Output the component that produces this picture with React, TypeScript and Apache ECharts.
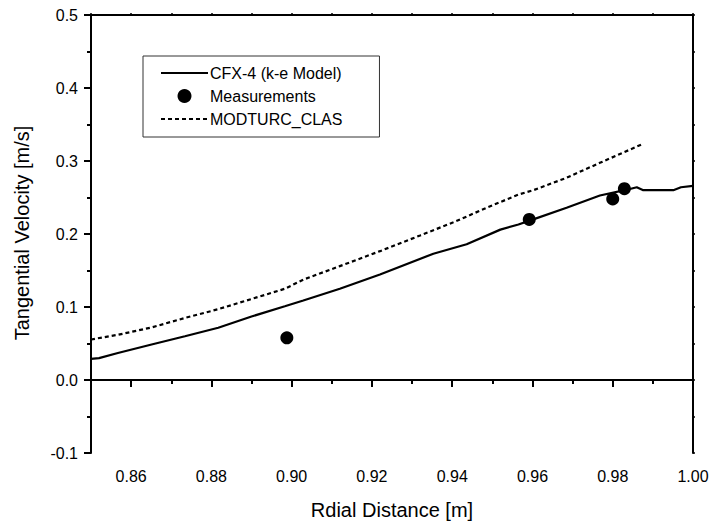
import React, { useEffect, useRef } from "react";
import * as echarts from "echarts";

const cfxX = [0.85, 0.852, 0.8567, 0.8651, 0.8734, 0.8817, 0.89, 0.8983, 0.9029, 0.912, 0.922, 0.9353, 0.9436, 0.952, 0.9565, 0.9602, 0.9685, 0.9768, 0.983, 0.986, 0.9876, 0.9951, 0.997, 1.0];
const cfxY = [0.029, 0.03, 0.037, 0.0486, 0.06, 0.0715, 0.087, 0.101, 0.109, 0.125, 0.1445, 0.173, 0.186, 0.206, 0.213, 0.22, 0.236, 0.2527, 0.26, 0.264, 0.26, 0.26, 0.264, 0.266];

const measX = [0.8988, 0.9592, 0.98, 0.9829];
const measY = [0.0578, 0.2199, 0.248, 0.262];

const modX = [0.85, 0.8568, 0.8651, 0.8734, 0.8817, 0.89, 0.8983, 0.9029, 0.912, 0.922, 0.932, 0.9403, 0.9486, 0.9565, 0.9602, 0.9685, 0.9768, 0.9876];
const modY = [0.0555, 0.062, 0.072, 0.085, 0.097, 0.111, 0.125, 0.1375, 0.156, 0.1765, 0.198, 0.216, 0.236, 0.254, 0.26, 0.277, 0.2975, 0.3236];

const xMajorTicks = [0.86, 0.88, 0.9, 0.92, 0.94, 0.96, 0.98, 1.0];
const xMinorTicks = [0.85, 0.87, 0.89, 0.91, 0.93, 0.95, 0.97, 0.99];

const seriesNames = ["CFX-4 (k-e Model)", "Measurements", "MODTURC_CLAS"];
const xTitle = "Rdial Distance [m]";
const yTitle = "Tangential Velocity [m/s]";

const FONT = "Liberation Sans, Arial, sans-serif";

export default function App() {
  const ref = useRef<HTMLDivElement>(null);
  useEffect(() => {
    if (!ref.current) return;
    const chart = echarts.init(ref.current, null, { renderer: "svg" });
    const zip = (xs: number[], ys: number[]) => xs.map((x, i) => [x, ys[i]]);
    const axisLine = { show: true, lineStyle: { color: "#000", width: 2 } };
    chart.setOption({
      animation: false,
      backgroundColor: "#fff",
      textStyle: { fontFamily: FONT },
      grid: { left: 91, right: 19, top: 15, bottom: 75 },
      xAxis: [
        {
          type: "value",
          min: 0.85,
          max: 1.0,
          position: "bottom",
          axisLine,
          splitLine: { show: false },
          axisTick: { show: true, length: 7, customValues: xMajorTicks, lineStyle: { color: "#000", width: 2 } },
          axisLabel: {
            customValues: xMajorTicks,
            margin: 15,
            fontSize: 16,
            color: "#000",
            fontFamily: FONT,
            formatter: (v: number) => v.toFixed(2),
          },
        },
        {
          type: "value",
          min: 0.85,
          max: 1.0,
          position: "bottom",
          axisLine: { show: false },
          splitLine: { show: false },
          axisTick: { show: true, length: 4, customValues: xMinorTicks, lineStyle: { color: "#000", width: 2 } },
          axisLabel: { show: false },
        },
        {
          type: "value",
          min: 0.85,
          max: 1.0,
          interval: 0.01,
          position: "top",
          axisLine,
          splitLine: { show: false },
          axisTick: { show: true, length: 2, lineStyle: { color: "#000", width: 1.5 } },
          axisLabel: { show: false },
        },
      ],
      yAxis: [
        {
          type: "value",
          min: -0.1,
          max: 0.5,
          interval: 0.1,
          position: "left",
          axisLine,
          splitLine: { show: false },
          axisTick: { show: true, length: 7, lineStyle: { color: "#000", width: 2 } },
          minorTick: { show: true, splitNumber: 2, length: 4, lineStyle: { color: "#000", width: 2 } },
          axisLabel: {
            margin: 13,
            fontSize: 16,
            color: "#000",
            fontFamily: FONT,
            formatter: (v: number) => v.toFixed(1),
          },
        },
        {
          type: "value",
          min: -0.1,
          max: 0.5,
          interval: 0.05,
          position: "right",
          axisLine,
          splitLine: { show: false },
          axisTick: { show: true, length: 2, lineStyle: { color: "#000", width: 1.5 } },
          axisLabel: { show: false },
        },
      ],
      legend: {
        show: true,
        orient: "vertical",
        left: 143,
        top: 56,
        padding: [9, 37, 10, 17],
        itemGap: 7,
        itemWidth: 47,
        itemHeight: 14,
        borderColor: "#333",
        borderWidth: 1,
        borderRadius: 0,
        data: [
          { name: seriesNames[0], itemStyle: { opacity: 0 } },
          { name: seriesNames[1] },
          { name: seriesNames[2], itemStyle: { opacity: 0 } },
        ],
        textStyle: { fontSize: 16, color: "#000", fontFamily: FONT, padding: [0, 0, 0, -3] },
      },
      graphic: [
        {
          type: "text",
          x: 392,
          y: 510,
          style: { text: xTitle, fontSize: 20, fontFamily: FONT, fill: "#000", align: "center", verticalAlign: "middle" },
        },
        {
          type: "text",
          x: 22,
          y: 233,
          rotation: Math.PI / 2,
          style: { text: yTitle, fontSize: 20, fontFamily: FONT, fill: "#000", align: "center", verticalAlign: "middle" },
        },
      ],
      series: [
        {
          name: seriesNames[0],
          type: "line",
          data: zip(cfxX, cfxY),
          symbol: "none",
          lineStyle: { color: "#000", width: 2.2 },
          itemStyle: { color: "#000" },
        },
        {
          name: seriesNames[1],
          type: "scatter",
          data: zip(measX, measY),
          symbol: "circle",
          symbolSize: 13,
          itemStyle: { color: "#000", opacity: 1 },
        },
        {
          name: seriesNames[2],
          type: "line",
          data: zip(modX, modY),
          symbol: "none",
          lineStyle: { color: "#000", width: 2.2, type: [4, 3] },
          itemStyle: { color: "#000" },
        },
      ],
    });
    return () => chart.dispose();
  }, []);
  return <div ref={ref} style={{ position: "absolute", left: 0, top: 0, width: 712, height: 528 }} />;
}
